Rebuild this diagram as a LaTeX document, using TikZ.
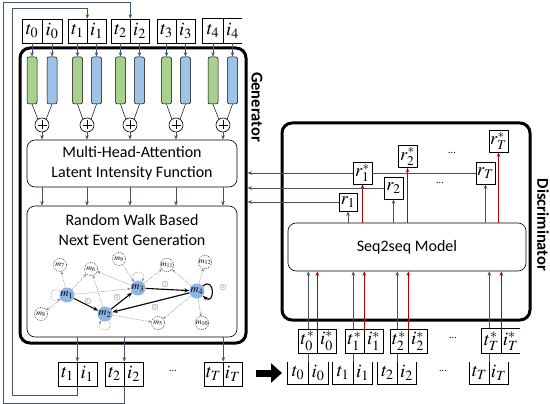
\documentclass[tikz,border=0pt]{standalone}
\usepackage{mathptmx}
\usepackage{fontspec}
\setsansfont{Carlito}
\usetikzlibrary{arrows.meta,calc}
\definecolor{arcol}{RGB}{68,84,106}
\definecolor{redc}{RGB}{192,0,0}
\definecolor{gfill}{RGB}{169,209,142}
\definecolor{bfill}{RGB}{157,195,230}
\definecolor{nfill}{RGB}{142,180,227}
\newcommand{\tipair}[9][]{%
 \node[cellbox,#1, minimum width={(#4-#3)*1pt}, minimum height={(#7-#6)*1pt}] (#2t) at ({(#3+#4)/2},{(#6+#7)/2}) {#8};
 \node[cellbox,#1, minimum width={(#5-#4)*1pt}, minimum height={(#7-#6)*1pt}] (#2i) at ({(#4+#5)/2},{(#6+#7)/2}) {#9};
}
\begin{document}
\begin{tikzpicture}[x=1pt,y=-1pt,
 ar/.style={draw=arcol, line width=0.7pt, -{Stealth[length=4.5pt,width=3.5pt]}},
 rar/.style={draw=redc, line width=0.9pt, -{Stealth[length=4.5pt,width=3.5pt]}},
 cellbox/.style={draw, line width=0.6pt, inner sep=0pt, fill=white, font=\fontsize{19}{19}\selectfont},
 rbox/.style={draw, line width=0.6pt, inner sep=0pt, fill=white, minimum width=19pt, minimum height=22pt, font=\fontsize{18}{18}\selectfont},
 bigbox/.style={draw, line width=3pt, rounded corners=10pt, inner sep=0pt},
 inbox/.style={draw, line width=0.6pt, rounded corners=8pt, inner sep=0pt, font=\fontsize{16}{20}\selectfont\sffamily, align=center},
 gbar/.style={draw, line width=0.5pt, fill=gfill, rounded corners=2pt, minimum width=10pt, minimum height=47pt, inner sep=0pt},
 bbar/.style={draw, line width=0.5pt, fill=bfill, rounded corners=2pt, minimum width=10pt, minimum height=47pt, inner sep=0pt},
 plusc/.style={draw, circle, line width=0.6pt, minimum size=14pt, inner sep=0pt},
 lbl/.style={font=\fontsize{16.5}{16.5}\selectfont\sffamily\bfseries, rotate=-90},
 dots/.style={font=\fontsize{10}{10}\selectfont\sffamily},
 bnode/.style={circle, fill=nfill, minimum size=15pt, inner sep=0pt, font=\fontsize{11}{11}\selectfont},
 dnode/.style={circle, draw, dash pattern=on 1pt off 1pt, line width=0.4pt, minimum size=13pt, inner sep=0pt, font=\fontsize{8}{8}\selectfont},
 thk/.style={line width=1.1pt, -{Stealth[length=5pt,width=4pt]}},
 dl/.style={draw=gray, line width=0.4pt, dash pattern=on 1.2pt off 1pt, -{Stealth[length=3pt,width=2.5pt]}},
 cnum/.style={circle, draw=gray, line width=0.3pt, inner sep=0.2pt, minimum size=6pt, font=\fontsize{4.5}{4.5}\selectfont, text=gray}
]
\useasboundingbox (0,0) rectangle (550,404);

% ---------------- Generator ----------------
\node[bigbox, minimum width=226pt, minimum height=295pt] (gen) at (133,195.5) {};
\node[lbl] (genlbl) at (257,107) {Generator};

% inputs
\tipair{g0}{22}{42}{62}{19}{43}{$t_0$}{$i_0$}
\tipair{g1}{68}{87}{106}{19}{43}{$t_1$}{$i_1$}
\tipair{g2}{111}{130}{149}{19}{43}{$t_2$}{$i_2$}
\tipair{g3}{157}{176}{195}{19}{43}{$t_3$}{$i_3$}
\tipair[draw=none]{g4}{203}{223}{242}{19}{43}{$t_4$}{$i_4$}
\draw[line width=0.6pt] (g4i.north east) -- (g4t.north west) -- (g4t.south west) -- (g4i.south east);
\draw[line width=0.6pt] (g4t.north east) -- (g4t.south east);

% bars and plus
\foreach \k/\xg/\xb/\xp in {0/32/52/42, 1/77.5/96.5/87, 2/120.5/139.5/130, 3/166.5/185.5/176, 4/213/232.5/223}{
  \node[gbar] (gb\k) at (\xg,80.5) {};
  \node[bbar] (bb\k) at (\xb,80.5) {};
  \node[plusc] (p\k) at (\xp,125) {};
  \draw[line width=0.6pt] ($(p\k)+(-4.5,0)$) -- ($(p\k)+(4.5,0)$) ($(p\k)+(0,-4.5)$) -- ($(p\k)+(0,4.5)$);
  \draw[ar] (g\k t.south -| gb\k.north) -- (gb\k.north);
  \draw[ar] (g\k i.south -| bb\k.north) -- (bb\k.north);
  \draw[line width=0.5pt] (gb\k.south) -- (p\k.125);
  \draw[line width=0.5pt] (bb\k.south) -- (p\k.55);
}

\node[inbox, minimum width=210pt, minimum height=47pt] (mha) at (132,163.5) {Multi-Head-Attention\\Latent Intensity Function};
\node[inbox, minimum width=210pt, minimum height=131pt] (rw) at (132,271.5) {};
\node[font=\fontsize{16}{20}\selectfont\sffamily, align=center] (rwtxt) at (132,230) {Random Walk Based\\Next Event Generation};

\foreach \k in {0,...,4}{
  \draw[ar] (p\k.south) -- (p\k.south |- mha.north);
  \draw[ar] (p\k.south |- mha.south) -- (p\k.south |- rw.north);
}

% graph
\node[bnode] (m1) at (67,295) {$m_1$};
\node[bnode] (m2) at (105,314) {$m_2$};
\node[bnode] (m3) at (138,288) {$m_3$};
\node[bnode] (m4) at (197,291) {$m_4$};
\node[dnode] (n7) at (60,265) {$m_7$};
\node[dnode] (n6) at (91,269) {$m_6$};
\node[dnode] (n9) at (119,259) {$m_9$};
\node[dnode] (n11) at (167,265) {$m_{11}$};
\node[dnode] (n12) at (205,262) {$m_{12}$};
\node[dnode] (n8) at (41,314) {$m_8$};
\node[dnode] (n5) at (158,323) {$m_5$};
\node[dnode] (n10) at (202,323) {$m_{10}$};

\draw[dl] (m1) -- (n7);
\draw[dl] (m1) -- (n6);
\draw[dl] (m1) -- (n8);
\draw[dl] (m1) -- (m3);
\draw[dl] (m2) -- (n6);
\draw[dl] (m3) -- (n6);
\draw[dl] (n9) -- (m3);
\draw[dl] (m3) -- (n11);
\draw[dl] (m4) -- (n11);
\draw[dl] (m4) -- (n12);
\draw[dl] (m4) -- (n10);
\draw[dl] (m4) -- (n5);
\draw[dl] (m2) -- (n5);
\draw[dl] (m1) to[out=150,in=210,min distance=14pt] (m1);
\draw[dl] (m2) to[out=-60,in=-120,min distance=14pt] (m2);
\draw[dl] (m3) to[out=120,in=60,min distance=14pt] (m3);

\draw[thk] (m1) -- (m2);
\draw[thk] (m2) -- (m3);
\draw[thk] (m3) -- (m4);
\draw[thk] (m4) -- (m2);
\draw[thk] (m4) to[out=40,in=-40,min distance=16pt] (m4);

\node[cnum] (c1) at (88,301) {1};
\node[cnum] (c2) at (117,297) {2};
\node[cnum] (c3) at (165,284) {3};
\node[cnum] (c4) at (155,307) {4};
\node[cnum] (c5) at (223,287) {5};

% outputs
\tipair{b1}{58}{77}{97}{362}{386}{$t_1$}{$i_1$}
\tipair{b2}{105}{124}{143}{362}{386}{$t_2$}{$i_2$}
\tipair{bT}{204}{223}{242}{362}{386}{$t_T$}{$i_T$}
\node[dots] (bdots) at (173,371) {...};
\draw[ar] (rw.south -| b1t.north east) -- (b1t.north east);
\draw[ar] (rw.south -| b2t.north east) -- (b2t.north east);
\draw[ar] (rw.south -| bTt.north east) -- (bTt.north east);

% feedback
\coordinate (fa1) at (12,395);
\coordinate (fa2) at (12,8);
\coordinate (fb1) at (3,403);
\coordinate (fb2) at (3,2);
\draw[ar] (b1t.south east) |- (fa1) -- (fa2) -| (g1t.north east);
\draw[ar] (b2t.south east) |- (fb1) -- (fb2) -| (g2t.north east);

% big arrow
\coordinate (ba1) at (256,373);
\coordinate (ba2) at (282,373);
\draw[line width=7pt, -{Triangle[length=11pt,width=19pt]}] (ba1) -- (ba2);

% ---------------- Discriminator ----------------
\node[bigbox, minimum width=248pt, minimum height=197pt] (disc) at (406,221.5) {};
\node[lbl] (disclbl) at (543,225) {Discriminator};
\node[inbox, minimum width=238pt, minimum height=48pt] (s2s) at (407,247) {Seq2seq Model};

\node[rbox, minimum height=18pt, minimum width=18pt] (r1) at (348,202) {$r_1$};
\node[rbox] (r1s) at (362.5,173) {$r_1^*$};
\node[rbox] (r2) at (393.5,188) {$r_2$};
\node[rbox] (r2s) at (407.5,156.5) {$r_2^*$};
\node[rbox] (rT) at (485.5,173) {$r_T$};
\node[rbox] (rTs) at (498.5,141) {$r_T^*$};
\node[dots] (rdots1) at (452,153) {...};
\node[dots] (rdots2) at (440,183) {...};

\draw[ar] (r1.south |- s2s.north) -- (r1.south);
\draw[rar] (r1s.south |- s2s.north) -- (r1s.south);
\draw[ar] (r2.south |- s2s.north) -- (r2.south);
\draw[rar] (r2s.south |- s2s.north) -- (r2s.south);
\draw[ar] (rT.south |- s2s.north) -- (rT.south);
\draw[rar] (rTs.south |- s2s.north) -- (rTs.south);

\draw[draw=arcol, line width=0.7pt] (rT.west) -- (rT.west -| r1s.east);
\draw[ar] (r1s.west) -- (r1s.west -| gen.east);
\draw[ar] (r2.west) -- (r2.west -| gen.east);
\draw[ar] (r1.west) -- (r1.west -| gen.east);

% unstarred inputs (open top)
\tipair[draw=none]{u0}{288}{308}{328}{362}{384}{$t_0$}{$i_0$}
\tipair[draw=none]{u1}{333}{353}{372}{362}{384}{$t_1$}{$i_1$}
\tipair[draw=none]{u2}{378}{397}{416}{362}{384}{$t_2$}{$i_2$}
\tipair[draw=none]{uT}{470}{489}{508}{362}{384}{$t_T$}{$i_T$}
\foreach \u in {u0,u1,u2,uT}{
  \draw[line width=0.6pt] (\u t.north west) -- (\u t.south west) -- (\u i.south east) -- (\u i.north east);
  \draw[line width=0.6pt] (\u t.north east) -- (\u t.south east);
  \draw[ar] (\u t.north east) -- (\u t.north east |- s2s.south);
}
\node[dots] (udots) at (443,371) {...};

% starred inputs
\tipair{s0}{298}{317}{336}{329}{353}{$t_0^*$}{$i_0^*$}
\tipair{s1}{345}{364}{383}{329}{353}{$t_1^*$}{$i_1^*$}
\tipair{s2}{390}{408}{427}{329}{353}{$t_2^*$}{$i_2^*$}
\tipair[draw=none]{sT}{482}{501}{520}{329}{353}{$t_T^*$}{$i_T^*$}
\draw[line width=0.6pt] (sTi.north east) -- (sTt.north west) -- (sTt.south west) -- (sTi.south east);
\draw[line width=0.6pt] (sTt.north east) -- (sTt.south east);
\node[dots] (sdots) at (453,338) {...};
\foreach \s in {s0,s1,s2,sT}{
  \draw[rar] (\s t.north east) -- (\s t.north east |- s2s.south);
}
\end{tikzpicture}
\end{document}
